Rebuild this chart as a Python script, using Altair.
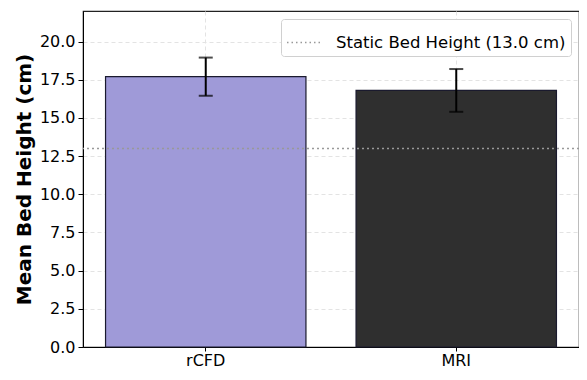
import altair as alt
import pandas as pd

methods = ["rCFD", "MRI"]
means = [17.7, 16.8]
stds = [1.25, 1.4]
bar_colors = ["#9f9ad8", "#2f2f2f"]
static_height = 13.0
static_label = "Static Bed Height (13.0 cm)"

df = pd.DataFrame({
    "method": methods,
    "mean": means,
    "lo": [m - s for m, s in zip(means, stds)],
    "hi": [m + s for m, s in zip(means, stds)],
    "color": bar_colors,
})
line_df = pd.DataFrame({"h": [static_height], "label": [static_label]})

font = "DejaVu Sans"

x = alt.X("method:N", sort=methods, title=None,
          scale=alt.Scale(paddingInner=0.2, paddingOuter=0.09),
          axis=alt.Axis(labelAngle=0, labelFontSize=16, labelColor="#000",
                        tickColor="#000", tickSize=4, domainColor="#000",
                        grid=True, gridDash=[4, 3], gridColor="#e3e3e3",
                        labelPadding=1))
yscale = alt.Scale(domain=[0, 22], nice=False)
yaxis = alt.Axis(values=[0, 2.5, 5, 7.5, 10, 12.5, 15, 17.5, 20], format=".1f",
                 labelFontSize=16, labelColor="#000", tickColor="#000", tickSize=5,
                 domainColor="#000", grid=True, gridDash=[4, 3], gridColor="#e3e3e3",
                 labelPadding=3,
                 title="Mean Bed Height (cm)", titleFontSize=20, titleFontWeight="bold",
                 titleColor="#000", titlePadding=5)

bars = alt.Chart(df).mark_bar(stroke="#1a1a2e", strokeWidth=1.2, opacity=1).encode(
    x=x,
    y=alt.Y("mean:Q", scale=yscale, axis=yaxis),
    fill=alt.Fill("color:N", scale=None, legend=None),
)

err = alt.Chart(df).mark_rule(color="#000", strokeWidth=2).encode(
    x=alt.X("method:N", sort=methods),
    y="lo:Q",
    y2="hi:Q",
)
cap_lo = alt.Chart(df).mark_tick(color="#000", thickness=2, size=14).encode(
    x=alt.X("method:N", sort=methods), y="lo:Q")
cap_hi = alt.Chart(df).mark_tick(color="#000", thickness=2, size=14).encode(
    x=alt.X("method:N", sort=methods), y="hi:Q")

static = alt.Chart(line_df).mark_rule(strokeDash=[2, 3], strokeWidth=1.5).encode(
    y="h:Q",
    color=alt.Color("label:N", scale=alt.Scale(range=["#999999"]),
                    legend=alt.Legend(title=None, orient="top-right", offset=8,
                                      symbolType="stroke", symbolDash=[1.5, 3],
                                      symbolStrokeWidth=1.5, symbolSize=1225,
                                      symbolStrokeColor="#999999",
                                      labelFontSize=16.5, labelColor="#000",
                                      labelFont=font, labelLimit=0,
                                      strokeColor="#d0d0d0", fillColor="#ffffff",
                                      cornerRadius=3, padding=5,
                                      labelOffset=13)),
)

chart = alt.layer(bars, static, err, cap_lo, cap_hi).resolve_scale(
    color="independent", fill="independent"
).properties(
    width=496, height=336,
    autosize=alt.AutoSizeParams(type="none"),
    padding={"left": 75, "top": 3, "right": 0, "bottom": 24},
).configure(font=font).configure_view(stroke="#222", strokeWidth=1.2)

chart.save("out.html", embed_options={"renderer": "svg", "actions": False})
